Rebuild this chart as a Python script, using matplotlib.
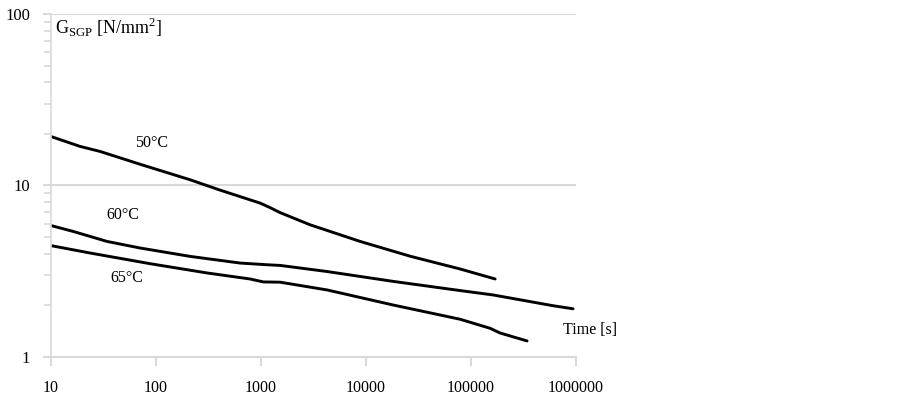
import matplotlib
matplotlib.use("Agg")
import matplotlib.pyplot as plt
from matplotlib.ticker import LogLocator, NullFormatter, FixedLocator

plt.rcParams["font.family"] = ["Liberation Serif", "DejaVu Serif"]
plt.rcParams["mathtext.fontset"] = "custom"
plt.rcParams["mathtext.rm"] = "Liberation Serif"

t_50 = [10, 18.9, 29.3, 70.5, 211, 407, 977, 1218, 1517, 2930, 8770, 26240, 78520, 169400]
g_50 = [19.3, 16.9, 15.8, 13.3, 10.8, 9.4, 7.9, 7.43, 6.95, 5.9, 4.72, 3.87, 3.26, 2.85]

t_60 = [10, 16.2, 34.1, 70.5, 211, 631, 1140, 1517, 4256, 18070, 78520, 162100, 604000, 936000]
g_60 = [5.84, 5.40, 4.72, 4.32, 3.86, 3.53, 3.45, 3.42, 3.15, 2.76, 2.44, 2.30, 1.99, 1.91]

t_65 = [10, 23.5, 87.7, 306, 786, 1050, 1517, 4256, 18070, 78520, 151700, 188800, 341300]
g_65 = [4.46, 4.04, 3.50, 3.09, 2.85, 2.74, 2.73, 2.46, 2.01, 1.66, 1.47, 1.38, 1.24]

x_ticks = [10, 100, 1000, 10000, 100000, 1000000]
x_labels = ["10", "100", "1000", "10000", "100000", "1000000"]
y_ticks = [1, 10, 100]
y_labels = ["1", "10", "100"]

grey = "#d9d9d9"

fig = plt.figure(figsize=(9.03, 3.97), dpi=100)
ax = fig.add_axes([0.0565, 0.1008, 0.5815, 0.8639])

for t, g in [(t_50, g_50), (t_60, g_60), (t_65, g_65)]:
    ax.plot(t, g, color="black", linewidth=2.1, solid_capstyle="round",
            solid_joinstyle="round")

ax.set_xscale("log")
ax.set_yscale("log")
ax.set_xlim(10, 1000000)
ax.set_ylim(1, 100)

ax.xaxis.set_major_locator(FixedLocator(x_ticks))
ax.set_xticklabels(x_labels)
ax.xaxis.set_minor_locator(FixedLocator([]))
ax.yaxis.set_major_locator(FixedLocator(y_ticks))
ax.set_yticklabels(y_labels)
ax.yaxis.set_minor_locator(LogLocator(base=10, subs=range(2, 10)))
ax.yaxis.set_minor_formatter(NullFormatter())

ax.grid(True, axis="y", which="major", color=grey, linewidth=1.5)
for s in ["top", "right"]:
    ax.spines[s].set_visible(False)
ax.spines["left"].set_color(grey)
ax.spines["bottom"].set_color(grey)
ax.spines["left"].set_linewidth(1.2)
ax.spines["bottom"].set_linewidth(1.5)

ax.tick_params(axis="x", which="major", direction="out", length=6.5, width=1.5,
               color=grey, labelsize=11.5, pad=10)
ax.tick_params(axis="y", which="major", direction="out", length=6, width=1.5,
               color=grey, labelsize=12, pad=9)
ax.tick_params(axis="y", which="minor", direction="out", length=5, width=1.2,
               color=grey)

ax.text(91.6, 17.6, "50°C", fontsize=11.5, ha="center", va="center")
ax.text(48.5, 6.77, "60°C", fontsize=11.5, ha="center", va="center")
ax.text(53, 2.90, "65°C", fontsize=11.5, ha="center", va="center")
ax.text(10.9, 84, r"G$_{\mathrm{SGP}}$ [N/mm$^2$]", fontsize=13,
        ha="left", va="center")
ax.text(1.36e6, 1.44, "Time [s]", fontsize=11.5, ha="center", va="center")

fig.savefig("out.png", dpi=100)
